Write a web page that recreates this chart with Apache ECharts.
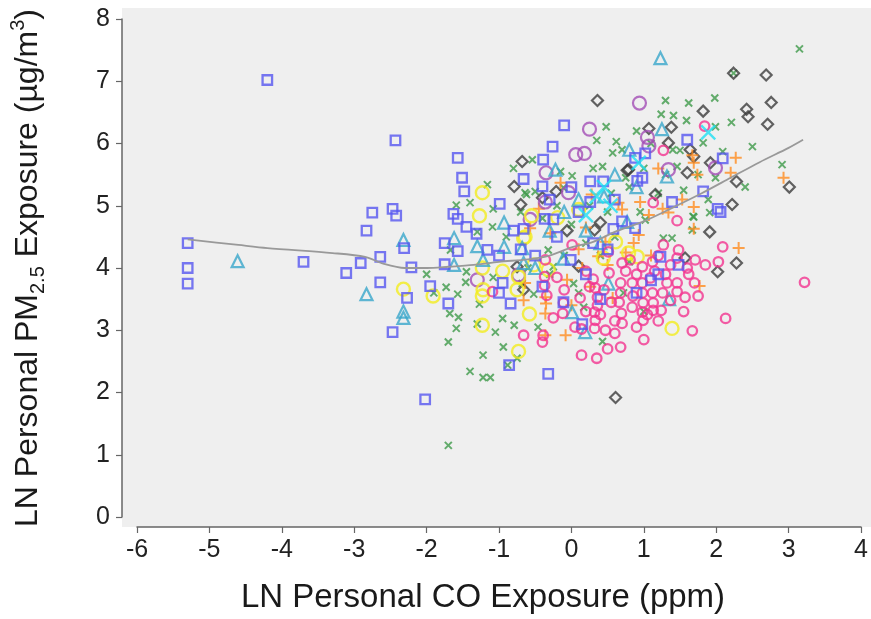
<!DOCTYPE html>
<html lang="en">
<head>
    <meta charset="utf-8">
    <title>PM2.5 vs CO</title>
    <style>
        html, body { margin: 0; padding: 0; background: #fff; }
        #main { width: 871px; height: 619px; }
    </style>
</head>
<body>
<div id="main"></div>
<script type="text/javascript" src="https://cdn.jsdelivr.net/npm/echarts/dist/echarts.min.js"></script>
<script type="text/javascript">
// axis ticks
var xTicks = [-6, 4];
var yTicks = [0, 8];

// groups as [ln CO, ln PM2.5]
var blueSquares = [
    [-4.2,7.02],[-5.3,4.4],[-5.3,4.0],[-5.3,3.75],[-3.7,4.1],[-3.11,3.92],[-2.91,4.08],[-2.75,4.89],
    [-2.83,4.6],[-2.64,4.18],[-2.64,3.77],[-2.43,6.05],[-1.57,5.77],[-1.51,5.45],[-1.48,5.23],[-2.47,4.95],
    [-2.42,4.84],[-2.21,4.01],[-2.31,4.32],[-2.27,3.52],[-1.95,3.71],[-2.47,2.97],[-1.7,3.43],[-1.63,4.87],
    [-1.57,4.79],[-1.45,4.66],[-1.31,4.55],[-1.75,4.4],[-1.57,4.27],[-1.75,4.06],[-1.16,4.29],[-0.99,5.03],
    [-0.66,5.43],[-0.84,3.43],[-0.95,3.76],[-2.02,1.89],[-0.86,2.44],[-0.32,2.3],[-0.1,6.29],[-0.26,5.95],
    [-0.39,5.74],[-0.4,5.31],[0.26,5.39],[0.44,5.39],[-0.01,4.13],[1.2,3.9],[1.23,4.18],[1.48,4.05],
    [0.88,5.77],[1.02,5.84],[0.91,5.4],[0.26,5.06],[-0.37,4.79],[-0.66,4.63],[0.58,4.63],[0.88,4.64],
    [-0.11,3.45],[1.39,5.06],[-0.25,4.78],[1.6,6.06],[2.09,5.76],[1.82,5.23],[2.02,4.95],[2.06,4.9],
    [0.98,5.45],[-0.5,4.2],[-0.2,4.5],[0.1,4.9],[0.3,4.4],[0.5,4.3],[0.7,4.75],[-0.7,4.3],
    [-0.3,5.1],[0.0,5.3],[0.6,5.1],[-0.8,4.6],[-1.0,4.2],[0.2,3.9],[0.4,3.5],[-0.4,3.7],
    [0.9,3.6],[1.1,3.8],[0.15,3.1],[-1.0,3.6]
];
var tealTriangles = [
    [-4.61,4.11],[-2.83,3.58],[-2.32,4.45],[-2.32,3.3],[-2.32,3.2],[-1.62,4.48],[-1.62,4.05],[-0.93,4.73],
    [-0.93,4.34],[-0.68,4.32],[-1.22,4.13],[-0.22,5.58],[1.23,7.37],[1.25,6.23],[1.32,5.47],[0.45,5.15],
    [0.1,5.1],[0.77,4.74],[-0.11,4.15],[0.51,3.75],[0.01,3.29],[-0.66,4.08],[0.19,2.97],[-0.5,4.0],
    [-0.3,4.6],[0.2,4.6],[0.6,5.5],[0.8,5.9],[0.9,5.3],[-0.1,4.9],[0.4,4.4],[-1.3,4.35],[1.35,3.5]
];
var greenCrosses = [
    [3.15,7.52],[2.24,7.13],[1.3,6.69],[1.62,6.65],[1.98,6.73],[0.48,6.27],[1.24,6.47],[1.41,6.45],
    [1.59,6.37],[2.21,6.34],[1.99,6.27],[0.62,6.03],[0.57,5.85],[1.82,6.01],[2.09,5.87],[2.91,5.66],
    [1.5,5.89],[1.99,5.45],[1.89,5.1],[1.91,4.89],[1.69,4.82],[-0.54,5.74],[-1.16,5.34],[-0.62,5.18],
    [0.43,5.63],[0.01,5.48],[-1.59,5.01],[-1.08,4.95],[-0.64,5.21],[-0.5,5.23],[-1.3,4.58],[-1.09,4.66],
    [-1.67,4.29],[-1.45,3.94],[-1.73,3.69],[-1.57,3.58],[-1.68,3.27],[-1.27,3.42],[-1.7,2.81],[-0.95,3.19],
    [-1.05,2.97],[-0.52,3.58],[-0.79,3.08],[-1.46,3.77],[-1.08,3.85],[-1.56,3.21],[-1.59,3.03],[-1.22,2.6],
    [-0.94,2.73],[-1.4,2.34],[-1.22,2.24],[-1.12,2.24],[-0.88,2.44],[-0.46,3.05],[-1.7,1.15],[-0.68,3.75],
    [-0.11,5.29],[1.46,5.63],[1.68,4.83],[1.67,4.61],[1.27,4.48],[1.39,4.48],[1.02,4.77],[-0.32,4.29],
    [-0.25,4.02],[0.17,3.37],[0.43,2.82],[0.03,3.75],[0.72,3.6],[0.2,4.4],[0.5,4.9],[0.8,5.3],
    [1.0,5.6],[1.1,6.0],[0.9,6.2],[0.7,5.9],[0.3,5.6],[-0.2,5.0],[-0.4,4.8],[-0.7,4.9],
    [-0.9,4.5],[0.0,4.7],[0.4,4.2],[0.6,4.5],[1.2,5.2],[1.4,5.9],[-0.1,4.2],[-0.6,4.0],
    [-0.3,3.9],[0.1,3.6],[0.8,4.1],[1.0,3.3],[0.55,5.2],[0.25,5.0],[1.3,5.5],[0.95,4.9],
    [1.75,5.5],[2.4,5.3],[-1.4,5.05],[-0.8,5.6],[-1.9,3.6],[-2.0,3.9],[-1.3,3.1],[-0.75,2.55],
    [0.75,5.45],[1.55,5.25],[2.5,5.95],[-0.15,5.55],[0.35,6.05]
];
var blackDiamonds = [
    [2.24,7.13],[2.69,7.1],[2.76,6.66],[2.42,6.55],[2.44,6.43],[2.71,6.31],[1.82,6.52],[1.07,6.24],
    [1.38,6.26],[1.34,6.01],[1.64,5.9],[1.69,5.79],[1.92,5.69],[0.79,5.58],[1.6,5.53],[2.28,5.39],
    [3.01,5.3],[1.16,5.18],[2.22,5.02],[0.36,6.69],[1.91,4.58],[2.28,4.08],[2.02,3.94],[-0.68,5.71],
    [-0.79,5.31],[-0.21,5.23],[-0.7,5.02],[-0.75,4.02],[-0.66,3.65],[-0.4,5.13],[-0.06,4.6],[0.4,4.73],
    [0.32,4.61],[0.1,4.03],[1.57,4.16],[0.61,1.92],[0.77,5.57]
];
var pinkCircles = [
    [0.52,3.92],[0.3,3.82],[0.33,3.68],[0.36,3.53],[0.36,3.4],[0.32,3.29],[0.33,3.16],[0.32,3.03],
    [0.12,3.52],[-0.12,3.27],[-0.11,3.44],[0.14,3.02],[0.47,3.0],[0.68,2.73],[0.14,2.6],[0.7,4.08],
    [0.68,3.76],[0.68,3.6],[0.66,3.45],[0.69,3.27],[0.7,3.11],[0.84,3.76],[0.84,3.37],[0.98,4.02],
    [0.98,3.76],[0.98,3.6],[0.99,3.44],[0.98,3.29],[0.99,3.16],[1.09,3.84],[1.12,3.6],[1.13,3.44],
    [1.13,3.32],[1.24,3.32],[1.26,3.6],[1.32,3.76],[1.37,3.48],[1.46,3.76],[1.46,3.62],[1.57,3.53],
    [1.62,3.9],[1.7,3.76],[1.85,4.05],[2.03,4.1],[2.13,3.19],[1.67,2.99],[1.37,4.05],[1.46,4.16],
    [1.71,4.13],[1.12,4.1],[0.81,4.13],[0.51,4.26],[-0.37,3.86],[-0.37,3.72],[-0.34,3.56],[-0.39,2.92],
    [2.09,4.34],[3.22,3.77],[1.84,6.28],[1.27,5.89],[1.13,5.05],[1.46,4.76],[1.27,4.37],[1.48,4.29],
    [-0.66,2.92],[0.01,4.37],[-0.36,4.13],[-0.1,3.65],[-1.09,3.62],[-0.4,2.81],[0.2,3.95],[0.25,3.7],
    [0.4,3.25],[0.55,3.45],[0.6,3.15],[0.85,3.55],[0.9,3.05],[1.05,3.25],[1.2,3.15],[1.3,3.9],
    [1.55,3.3],[1.6,4.0],[1.75,3.55],[0.45,3.65],[0.75,3.95],[0.9,3.9],[1.15,3.95],[0.2,3.3],
    [-0.2,3.85],[-0.25,3.2],[0.05,3.05],[0.6,2.95],[0.5,2.7],[1.0,2.85],[0.35,2.55],[1.2,4.2]
];
var orangePluses = [
    [2.27,5.77],[2.2,5.53],[2.93,5.45],[1.69,5.69],[1.74,5.5],[1.69,4.98],[1.53,5.1],[1.2,5.6],
    [1.07,4.85],[1.34,4.89],[0.95,5.06],[0.65,5.05],[0.7,4.94],[1.69,4.63],[2.31,4.32],[1.77,3.71],
    [1.67,5.81],[1.26,4.95],[0.28,5.18],[-0.15,5.37],[0.86,4.4],[0.93,4.53],[0.47,4.42],[0.37,4.19],
    [-0.06,3.81],[-0.29,4.56],[-0.57,4.64],[-0.64,3.76],[-0.66,3.48],[-0.36,3.27],[-0.08,2.92],[0.26,3.7],
    [0.57,3.52],[0.5,4.05],[-0.35,3.43],[-0.36,3.53],[-0.36,2.92],[0.1,4.3],[0.2,4.65],[-0.45,4.95],
    [0.75,4.25],[1.1,4.2],[0.0,3.4],[0.15,4.0]
];
var yellowCircles = [
    [-1.23,5.21],[-1.27,4.84],[-0.55,4.84],[-2.32,3.66],[-1.91,3.55],[-1.23,4.0],[-0.95,3.95],[-0.73,3.86],
    [-1.22,3.65],[-1.23,3.55],[-0.75,3.65],[-1.23,3.08],[-0.58,3.26],[-0.64,4.5],[-0.52,4.05],[-0.73,2.66],
    [-0.19,4.81],[0.1,4.94],[-0.32,3.97],[0.61,4.42],[0.44,4.16],[0.79,4.24],[0.91,4.18],[1.39,3.03],
    [-0.66,4.48]
];
var purpleCircles = [
    [0.94,6.65],[1.05,6.1],[1.07,5.96],[1.34,5.58],[1.99,5.61],[0.25,6.23],[0.06,5.82],[0.18,5.84],
    [-0.35,5.53],[-0.36,5.06],[-0.04,5.21],[-1.3,3.81],[-0.57,4.78],[-0.73,3.89]
];
var cyanCrosses = [
    [1.89,6.18],[0.93,5.69],[0.54,5.0],[0.35,5.15],[0.45,5.3],[0.2,4.85]
];
// smoothed fit line
var fitX = [-5.3,-4.6,-4.2,-3.3,-2.85,-2.6,-2.3,-2.0,-1.7,-1.35,-1.0,-0.6,-0.3,0.0,0.3,0.6,1.0,1.4,1.8,2.2,2.6,3.0,3.2];
var fitY = [4.46,4.37,4.32,4.24,4.18,4.07,4.0,4.0,4.02,4.05,4.1,4.14,4.2,4.33,4.42,4.58,4.75,4.97,5.2,5.45,5.7,5.93,6.06];

var fitLine = [];
for (var i = 0; i < fitX.length; i++) {
    fitLine.push([fitX[i], fitY[i]]);
}

var xPath = 'path://M0,0L10,10M10,0L0,10';
var plusPath = 'path://M5,0L5,10M0,5L10,5';

function markers(data, symbol, size, color, width) {
    return {
        type: 'scatter',
        data: data,
        symbol: symbol,
        symbolSize: size,
        itemStyle: { color: 'rgba(0,0,0,0)', borderColor: color, borderWidth: width },
        emphasis: { disabled: true }
    };
}

var myChart = echarts.init(document.getElementById('main'));
var font = '"Liberation Sans", Arial, Helvetica, sans-serif';

var option = {
    animation: false,
    backgroundColor: '#fff',
    graphic: [{
        type: 'rect',
        z: -100,
        silent: true,
        shape: { x: 122, y: 8, width: 749, height: 519 },
        style: { fill: '#efefef' }
    }],
    grid: { left: 137, right: 10, top: 19, bottom: 102 },
    xAxis: {
        type: 'value',
        min: xTicks[0], max: xTicks[1], interval: 1,
        offset: 10,
        name: 'LN Personal CO Exposure (ppm)',
        nameLocation: 'middle',
        nameGap: 54,
        nameTextStyle: { fontFamily: font, fontSize: 33, color: '#1a1a1a', padding: [0, 32, 0, 0] },
        axisLine: { onZero: false, lineStyle: { color: '#666', width: 1.5 } },
        axisTick: { length: 6, lineStyle: { color: '#666', width: 1.2 } },
        axisLabel: { fontFamily: font, fontSize: 25, color: '#222', margin: 11 },
        splitLine: { show: false }
    },
    yAxis: {
        type: 'value',
        min: yTicks[0], max: yTicks[1], interval: 1,
        offset: 15,
        name: 'LN Personal PM{sub|2.5} Exposure (µg/m{sup|3})',
        nameLocation: 'middle',
        nameGap: 74,
        nameTextStyle: {
            fontFamily: font, fontSize: 32, color: '#1a1a1a', lineHeight: 40,
            rich: {
                sub: { fontFamily: font, fontSize: 20, lineHeight: 22, verticalAlign: 'bottom', color: '#1a1a1a' },
                sup: { fontFamily: font, fontSize: 20, lineHeight: 22, verticalAlign: 'top', color: '#1a1a1a' }
            }
        },
        axisLine: { onZero: false, lineStyle: { color: '#666', width: 1.5 } },
        axisTick: { length: 6, lineStyle: { color: '#666', width: 1.2 } },
        axisLabel: { fontFamily: font, fontSize: 25, color: '#222', margin: 12 },
        splitLine: { show: false }
    },
    series: [
        markers(greenCrosses, xPath, 7, '#3f9a4a', 2),
        markers(blackDiamonds, 'diamond', 11, '#3c3c3c', 2.2),
        markers(orangePluses, plusPath, 12, '#ff8c1f', 2),
        markers(purpleCircles, 'circle', 13, '#a24db5', 2.2),
        markers(yellowCircles, 'circle', 13, '#f2ec1e', 2.4),
        markers(tealTriangles, 'triangle', 12, '#38a6cb', 2.2),
        markers(pinkCircles, 'circle', 9.5, '#f23590', 2.3),
        markers(blueSquares, 'rect', 9.5, '#5656f0', 2.3),
        markers(cyanCrosses, xPath, 14, '#1fe0f2', 2.4),
        {
            type: 'line',
            data: fitLine,
            showSymbol: false,
            smooth: 0.3,
            lineStyle: { color: '#999', width: 1.8 },
            z: 5,
            emphasis: { disabled: true }
        }
    ]
};
myChart.setOption(option);

window.addEventListener('resize', function () {
    myChart.resize();
});
</script>
</body>
</html>
